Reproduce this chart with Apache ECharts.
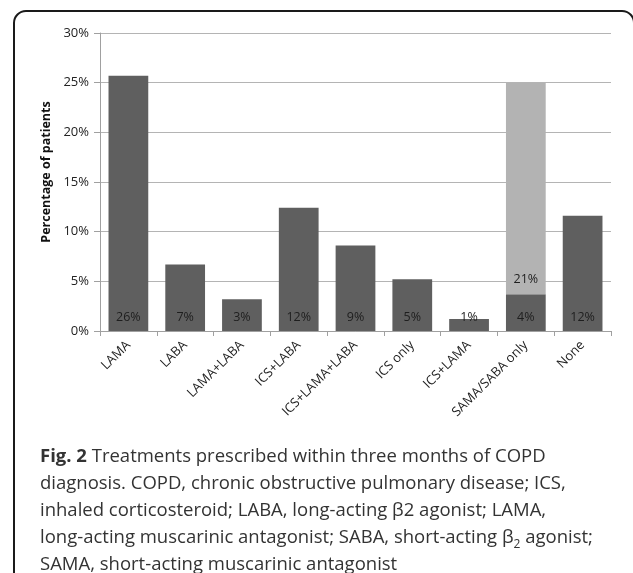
<!DOCTYPE html>
<html>
<head>
<meta charset="utf-8">
<script src="https://cdn.jsdelivr.net/npm/echarts@6/dist/echarts.min.js"></script>
<style>html,body{margin:0;padding:0;background:#fff;}#c{width:633px;height:573px;}</style>
</head>
<body>
<div id="c"></div>
<script>
const categories = ['LAMA','LABA','LAMA+LABA','ICS+LABA','ICS+LAMA+LABA','ICS only','ICS+LAMA','SAMA/SABA only','None'];
const primaryValues = [25.7, 6.7, 3.2, 12.4, 8.6, 5.2, 1.2, 3.7, 11.6];
const secondaryValues = [null, null, null, null, null, null, null, 21.3, null];
const yTicks = {min: 0, max: 30, interval: 5};

const chart = echarts.init(document.getElementById('c'), null, {renderer: 'canvas'});
const font = '"Open Sans", "Noto Sans", sans-serif';
const pctLabel = p => Math.round(p.value) + '%';

chart.setOption({
  animation: false,
  backgroundColor: '#fff',
  grid: {left: 100, right: 22, top: 33, bottom: 242},
  xAxis: {
    type: 'category',
    data: categories,
    axisLine: {lineStyle: {color: '#a0a0a0', width: 1}},
    axisTick: {show: true, length: 5, interval: 0, lineStyle: {color: '#a0a0a0'}},
    axisLabel: {rotate: 45, interval: 0, color: '#222', fontSize: 13, fontFamily: font, margin: 12}
  },
  yAxis: {
    type: 'value',
    min: yTicks.min, max: yTicks.max, interval: yTicks.interval,
    name: 'Percentage of patients',
    nameLocation: 'middle',
    nameGap: 46,
    nameTextStyle: {color: '#111', fontSize: 12.5, fontWeight: 'bold', fontFamily: font, padding: [0, 0, 0, 20]},
    axisLine: {show: true, lineStyle: {color: '#a0a0a0', width: 1}},
    axisTick: {show: true, length: 6, lineStyle: {color: '#a0a0a0'}},
    splitLine: {lineStyle: {color: '#b4b4b4', width: 1}},
    axisLabel: {formatter: '{value}%', color: '#222', fontSize: 13, fontFamily: font, margin: 11}
  },
  series: [
    {
      type: 'bar', stack: 'total', data: primaryValues, barWidth: '70%',
      itemStyle: {color: '#5f5f5f'},
      label: {show: true, position: 'insideBottom', distance: 7, formatter: pctLabel,
              color: '#1e1e1e', fontSize: 12.5, fontFamily: font}
    },
    {
      type: 'bar', stack: 'total', data: secondaryValues, barWidth: '70%',
      itemStyle: {color: '#b3b3b3'},
      label: {show: true, position: 'insideBottom', distance: 8, formatter: pctLabel,
              color: '#1e1e1e', fontSize: 12.5, fontFamily: font}
    }
  ],
  graphic: [
    {
      type: 'rect', silent: true,
      shape: {x: 14, y: 11, width: 620, height: 620, r: 12},
      style: {fill: 'none', stroke: '#1a1a1a', lineWidth: 2}
    },
    {
      type: 'text', left: 40, top: 443, silent: true,
      style: {
        text: '{b|Fig. 2} Treatments prescribed within three months of COPD\n' +
              'diagnosis. COPD, chronic obstructive pulmonary disease; ICS,\n' +
              'inhaled corticosteroid; LABA, long-acting β2 agonist; LAMA,\n' +
              'long-acting muscarinic antagonist; SABA, short-acting β{s|2} agonist;\n' +
              'SAMA, short-acting muscarinic antagonist',
        font: '18.5px ' + font,
        fill: '#333',
        lineHeight: 27,
        rich: {
          b: {fontWeight: 'bold', fontSize: 18.5, fontFamily: font, color: '#111', lineHeight: 27},
          s: {fontSize: 12, fontFamily: font, color: '#333', lineHeight: 27, verticalAlign: 'bottom'}
        }
      }
    }
  ]
});
</script>
</body>
</html>
